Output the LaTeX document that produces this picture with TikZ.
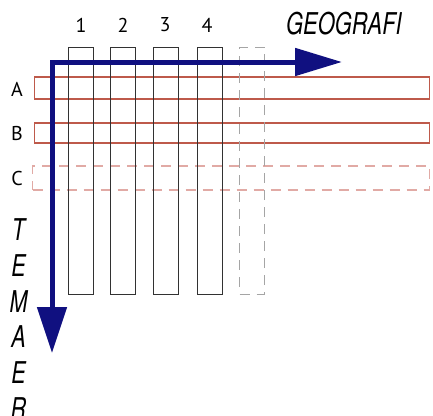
\documentclass[tikz,border=0pt]{standalone}
\usepackage{fontspec}
\setmainfont{PT Sans}
\newfontfamily\heros{TeX Gyre Heros}
\usetikzlibrary{arrows.meta}
\definecolor{navy}{RGB}{16,16,128}
\definecolor{rowred}{RGB}{190,90,75}
\definecolor{rowpink}{RGB}{225,170,165}
\definecolor{colgray}{RGB}{50,50,50}
\definecolor{dashgray}{RGB}{165,165,165}
\tikzset{
  colbox/.style={draw=colgray, line width=1pt, minimum width=25pt, minimum height=247pt, inner sep=0pt},
  colboxdash/.style={colbox, draw=dashgray, dash pattern=on 10pt off 7pt},
  rowbox/.style={draw=rowred, line width=1.2pt, minimum width=395pt, inner sep=0pt},
  rowboxdash/.style={rowbox, draw=rowpink, dash pattern=on 10pt off 7pt},
  lbl/.style={inner sep=0pt, font=\fontsize{20}{20}\selectfont},
  ital/.style={inner sep=0pt, font=\heros\itshape\fontsize{30}{30}\selectfont},
  bluearrow/.style={draw=navy, line width=5pt, line join=miter,
    {Triangle[length=47pt,width=27pt]}-{Triangle[length=46pt,width=29pt]}}
}
\begin{document}
\begin{tikzpicture}[x=1pt,y=-1pt]
\useasboundingbox (0,0) rectangle (433,415);
% rows
\node[rowbox, minimum height=22pt] (rA) at (232,88) {};
\node[rowbox, minimum height=20pt] (rB) at (232,133) {};
\node[rowboxdash, minimum width=397pt, minimum height=24pt] (rC) at (231,178) {};
% columns
\node[colbox] (c1) at (81,170.5) {};
\node[colbox] (c2) at (123,170.5) {};
\node[colbox] (c3) at (166,170.5) {};
\node[colbox] (c4) at (210,170.5) {};
\node[colboxdash] (c5) at (252,170.5) {};
% labels
\node[lbl] (n1) at (81,25) {1};
\node[lbl] (n2) at (123,25) {2};
\node[lbl] (n3) at (165,25) {3};
\node[lbl] (n4) at (207,25) {4};
\node[lbl] (lA) at (17,89) {A};
\node[lbl] (lB) at (17,133) {B};
\node[lbl] (lC) at (17,178) {C};
\node[ital] (geo) at (344,24) {\scalebox{0.73}[1]{GEOGRAFI}};
\node[ital] (t1) at (18.5,230) {\scalebox{0.72}[1]{T}};
\node[ital] (t2) at (18.5,266) {\scalebox{0.72}[1]{E}};
\node[ital] (t3) at (18.5,302) {\scalebox{0.72}[1]{M}};
\node[ital] (t4) at (18.5,337) {\scalebox{0.72}[1]{A}};
\node[ital] (t5) at (18.5,373) {\scalebox{0.72}[1]{E}};
\node[ital] (t6) at (18.5,409) {\scalebox{0.72}[1]{R}};
% blue axes
\coordinate (corner) at (52,62);
\coordinate (htip) at (342,62);
\coordinate (vtip) at (52,353);
\draw[bluearrow] (htip) -- (corner) -- (vtip);
\end{tikzpicture}
\end{document}
